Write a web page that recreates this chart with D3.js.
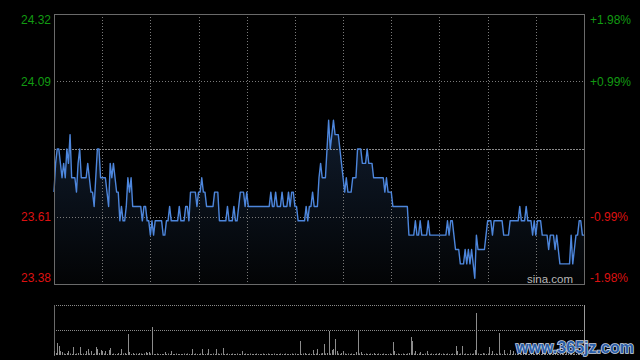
<!DOCTYPE html>
<html>
<head>
<meta charset="utf-8">
<script src="https://cdn.jsdelivr.net/npm/d3@7/dist/d3.min.js"></script>
<style>
html,body{margin:0;padding:0;background:#000;}
svg{display:block;}
text{font-family:"Liberation Sans",Arial,sans-serif;}
</style>
</head>
<body>
<svg id="chart" width="640" height="360"></svg>
<script>
// ---- data ----
const prevClose = 23.85;
const priceTicks = [24.32, 24.085, 23.615, 23.38];
const priceLabels = ["24.32", "24.09", "23.61", "23.38"];
const pctLabels = ["+1.98%", "+0.99%", "-0.99%", "-1.98%"];
const prices = [
23.70,23.80,23.85,23.85,23.80,23.75,23.80,23.75,23.85,23.80,
23.90,23.75,23.75,23.75,23.70,23.80,23.85,23.75,23.75,23.75,
23.75,23.80,23.75,23.70,23.70,23.65,23.75,23.85,23.85,23.75,
23.75,23.75,23.75,23.70,23.65,23.80,23.75,23.80,23.75,23.70,
23.70,23.60,23.65,23.60,23.60,23.65,23.75,23.70,23.75,23.65,
23.65,23.65,23.65,23.65,23.65,23.60,23.65,23.65,23.60,23.60,
23.55,23.60,23.55,23.60,23.60,23.60,23.60,23.60,23.55,23.55,
23.60,23.60,23.65,23.60,23.60,23.60,23.60,23.60,23.65,23.60,
23.60,23.60,23.65,23.65,23.60,23.70,23.70,23.70,23.70,23.65,
23.70,23.70,23.75,23.70,23.70,23.65,23.65,23.65,23.65,23.65,
23.70,23.70,23.70,23.60,23.60,23.60,23.60,23.60,23.65,23.60,
23.60,23.60,23.65,23.60,23.60,23.65,23.70,23.70,23.70,23.65,
23.70,23.65,23.65,23.65,23.65,23.65,23.65,23.65,23.65,23.65,
23.65,23.65,23.65,23.65,23.65,23.70,23.65,23.65,23.70,23.65,
23.65,23.65,23.70,23.65,23.65,23.65,23.70,23.65,23.70,23.70,
23.65,23.65,23.60,23.60,23.60,23.60,23.60,23.65,23.60,23.65,
23.65,23.70,23.65,23.65,23.65,23.75,23.80,23.75,23.75,23.75,
23.85,23.95,23.85,23.90,23.95,23.90,23.90,23.90,23.85,23.80,
23.75,23.70,23.75,23.70,23.70,23.70,23.75,23.75,23.75,23.85,
23.85,23.85,23.80,23.80,23.80,23.85,23.80,23.80,23.80,23.75,
23.75,23.75,23.75,23.75,23.75,23.75,23.70,23.75,23.70,23.70,
23.70,23.65,23.65,23.65,23.65,23.65,23.65,23.65,23.65,23.65,
23.65,23.55,23.55,23.55,23.55,23.60,23.55,23.55,23.60,23.55,
23.55,23.55,23.55,23.60,23.55,23.55,23.55,23.55,23.55,23.55,
23.55,23.55,23.55,23.55,23.55,23.60,23.55,23.60,23.60,23.55,
23.50,23.50,23.50,23.45,23.45,23.45,23.50,23.45,23.50,23.45,
23.50,23.45,23.40,23.55,23.50,23.50,23.50,23.50,23.50,23.55,
23.60,23.60,23.60,23.55,23.60,23.60,23.60,23.60,23.60,23.60,
23.55,23.55,23.55,23.55,23.60,23.60,23.60,23.60,23.60,23.60,
23.65,23.60,23.60,23.60,23.65,23.60,23.60,23.60,23.55,23.60,
23.55,23.60,23.60,23.60,23.55,23.55,23.55,23.55,23.50,23.55,
23.55,23.55,23.50,23.55,23.50,23.45,23.45,23.45,23.45,23.45,
23.45,23.45,23.55,23.45,23.50,23.55,23.55,23.60,23.60,23.55,
23.55
];
const volumes = [
8,4,24,18,8,6,3,2,4,8,
3,2,16,2,3,4,16,2,3,2,
8,12,3,8,2,3,16,12,4,10,
8,3,8,2,10,14,2,3,2,2,
4,2,12,3,4,2,42,6,2,4,
2,3,2,4,3,2,3,6,4,6,
3,56,2,2,3,2,2,2,2,6,
2,3,2,8,2,2,3,2,2,2,
2,3,2,3,2,2,12,2,3,2,
2,3,12,2,2,3,12,2,2,3,
2,12,3,2,3,14,2,2,3,2,
2,3,2,2,3,2,2,8,2,3,
2,2,3,2,2,2,3,2,2,2,
3,2,2,3,2,2,2,3,2,2,
2,3,2,2,3,2,2,2,3,2,
3,2,2,28,2,3,4,2,2,3,
2,10,2,3,12,2,3,4,22,3,
4,48,3,10,12,32,8,3,2,4,
8,3,2,3,2,3,2,2,6,48,
3,6,2,2,3,2,2,3,2,4,
2,2,3,2,2,3,2,2,2,3,
2,26,8,2,3,2,2,3,2,2,
3,4,36,28,3,8,2,3,6,2,
2,3,8,2,2,3,2,2,3,2,
4,2,3,2,2,3,2,2,3,2,
18,8,2,3,18,2,3,2,2,3,
2,3,10,84,3,2,2,4,3,2,
3,16,2,8,2,3,2,44,3,2,
10,2,3,2,10,2,8,3,2,2,
3,2,6,2,3,2,2,12,3,2,
2,3,2,2,8,2,3,2,2,3,
2,2,6,3,2,2,3,2,2,10,
3,2,4,2,3,2,6,2,3,4,
8
];
const sessionMinutes = 330;
const halfHourSlots = 11;

// ---- layout ----
const L = 54, R = 584, T = 14, B = 284;
const VT = 305, VB = 355;
const svg = d3.select("#chart");
svg.append("rect").attr("width",640).attr("height",360).attr("fill","#000");

const x = d3.scaleLinear().domain([0, sessionMinutes]).range([L, R]);
const y = d3.scaleLinear().domain([23.38, 24.32]).range([B, T]);
const yv = d3.scaleLinear().domain([0, 100]).range([VB, VT]);

const green = "#129a12", red = "#dd1111", gridCol = "#7a7a7a";

// gradient
const defs = svg.append("defs");
const grad = defs.append("linearGradient").attr("id","ag").attr("x1",0).attr("y1",0).attr("x2",0).attr("y2",1)
  .attr("gradientUnits","userSpaceOnUse").attr("y1",T).attr("y2",B).attr("x1",0).attr("x2",0);
grad.append("stop").attr("offset","0%").attr("stop-color","#182b46");
grad.append("stop").attr("offset","100%").attr("stop-color","#030405");

// area
const idx = d3.range(prices.length);
svg.append("path").datum(idx)
  .attr("fill","url(#ag)")
  .attr("d", d3.area().x(i=>x(i)).y0(B).y1(i=>y(prices[i])));

// grid verticals
const vgrid = d3.range(1, halfHourSlots).map(k => k*sessionMinutes/halfHourSlots);
svg.append("g").selectAll("line").data(vgrid).join("line")
  .attr("x1", d=>Math.round(x(d))+0.5).attr("x2", d=>Math.round(x(d))+0.5)
  .attr("y1", T).attr("y2", B)
  .attr("stroke", gridCol).attr("stroke-width",1).attr("stroke-dasharray","1,2");

// grid horizontals
svg.append("g").selectAll("line").data([priceTicks[1], priceTicks[2]]).join("line")
  .attr("x1", L).attr("x2", R)
  .attr("y1", d=>Math.round(y(d))+0.5).attr("y2", d=>Math.round(y(d))+0.5)
  .attr("stroke", gridCol).attr("stroke-width",1).attr("stroke-dasharray","1,2");
svg.append("line")
  .attr("x1", L).attr("x2", R)
  .attr("y1", Math.round(y(prevClose))+0.5).attr("y2", Math.round(y(prevClose))+0.5)
  .attr("stroke", "#8a8a8a").attr("stroke-width",1).attr("stroke-dasharray","2,1");

// price line
svg.append("path").datum(idx)
  .attr("fill","none").attr("stroke","#4d86dc").attr("stroke-width",1.4)
  .attr("stroke-linejoin","round")
  .attr("d", d3.line().x(i=>x(i)).y(i=>y(prices[i])));

// frame
svg.append("rect").attr("x",L+0.5).attr("y",T+0.5).attr("width",R-L).attr("height",B-T)
  .attr("fill","none").attr("stroke","#6a6a6a").attr("stroke-width",1);

// labels
const labelY = (d,i) => i===0 ? y(d)+6 : (i===priceTicks.length-1 ? y(d)-6 : y(d));
svg.append("g").selectAll("text").data(priceTicks).join("text")
  .attr("x", 51).attr("y", (d,i)=>labelY(d,i)).attr("dy","0.36em")
  .attr("text-anchor","end").attr("font-size",12)
  .attr("fill",(d,i)=> i<2 ? green : red)
  .text((d,i)=>priceLabels[i]);
svg.append("g").selectAll("text").data(priceTicks).join("text")
  .attr("x", 590).attr("y", (d,i)=>labelY(d,i)).attr("dy","0.36em")
  .attr("text-anchor","start").attr("font-size",12)
  .attr("fill",(d,i)=> i<2 ? green : red)
  .text((d,i)=>pctLabels[i]);

svg.append("text").attr("x",573).attr("y",283).attr("text-anchor","end")
  .attr("font-size",11.5).attr("fill","#b8b8b8").text("sina.com");

// volume panel
svg.append("g").selectAll("line").data([VT, (VT+VB)/2]).join("line")
  .attr("x1",L).attr("x2",R).attr("y1",d=>Math.round(d)+0.5).attr("y2",d=>Math.round(d)+0.5)
  .attr("stroke","#8a8a8a").attr("stroke-width",1).attr("stroke-dasharray","1,1");
svg.append("line").attr("x1",L+0.5).attr("x2",L+0.5).attr("y1",VT).attr("y2",VB+1)
  .attr("stroke","#6a6a6a");
svg.append("line").attr("x1",R+0.5).attr("x2",R+0.5).attr("y1",VT).attr("y2",VB+1)
  .attr("stroke","#9a9a9a");
svg.append("g").selectAll("line").data(idx).join("line")
  .attr("x1", i=>Math.round(x(i))+0.5).attr("x2", i=>Math.round(x(i))+0.5)
  .attr("y1", yv(0)).attr("y2", i=>yv(volumes[i]))
  .attr("stroke","#8c8c8c").attr("stroke-width",1);

// watermark
svg.append("text").attr("x",516).attr("y",353)
  .attr("font-family","DejaVu Sans, sans-serif").attr("font-weight","bold")
  .attr("font-size",17).attr("textLength",118).attr("lengthAdjust","spacingAndGlyphs")
  .attr("fill","#2a5ea8").attr("stroke","#c9d2e2").attr("stroke-width",1.6)
  .attr("paint-order","stroke").text("www.365jz.com");
</script>
</body>
</html>
